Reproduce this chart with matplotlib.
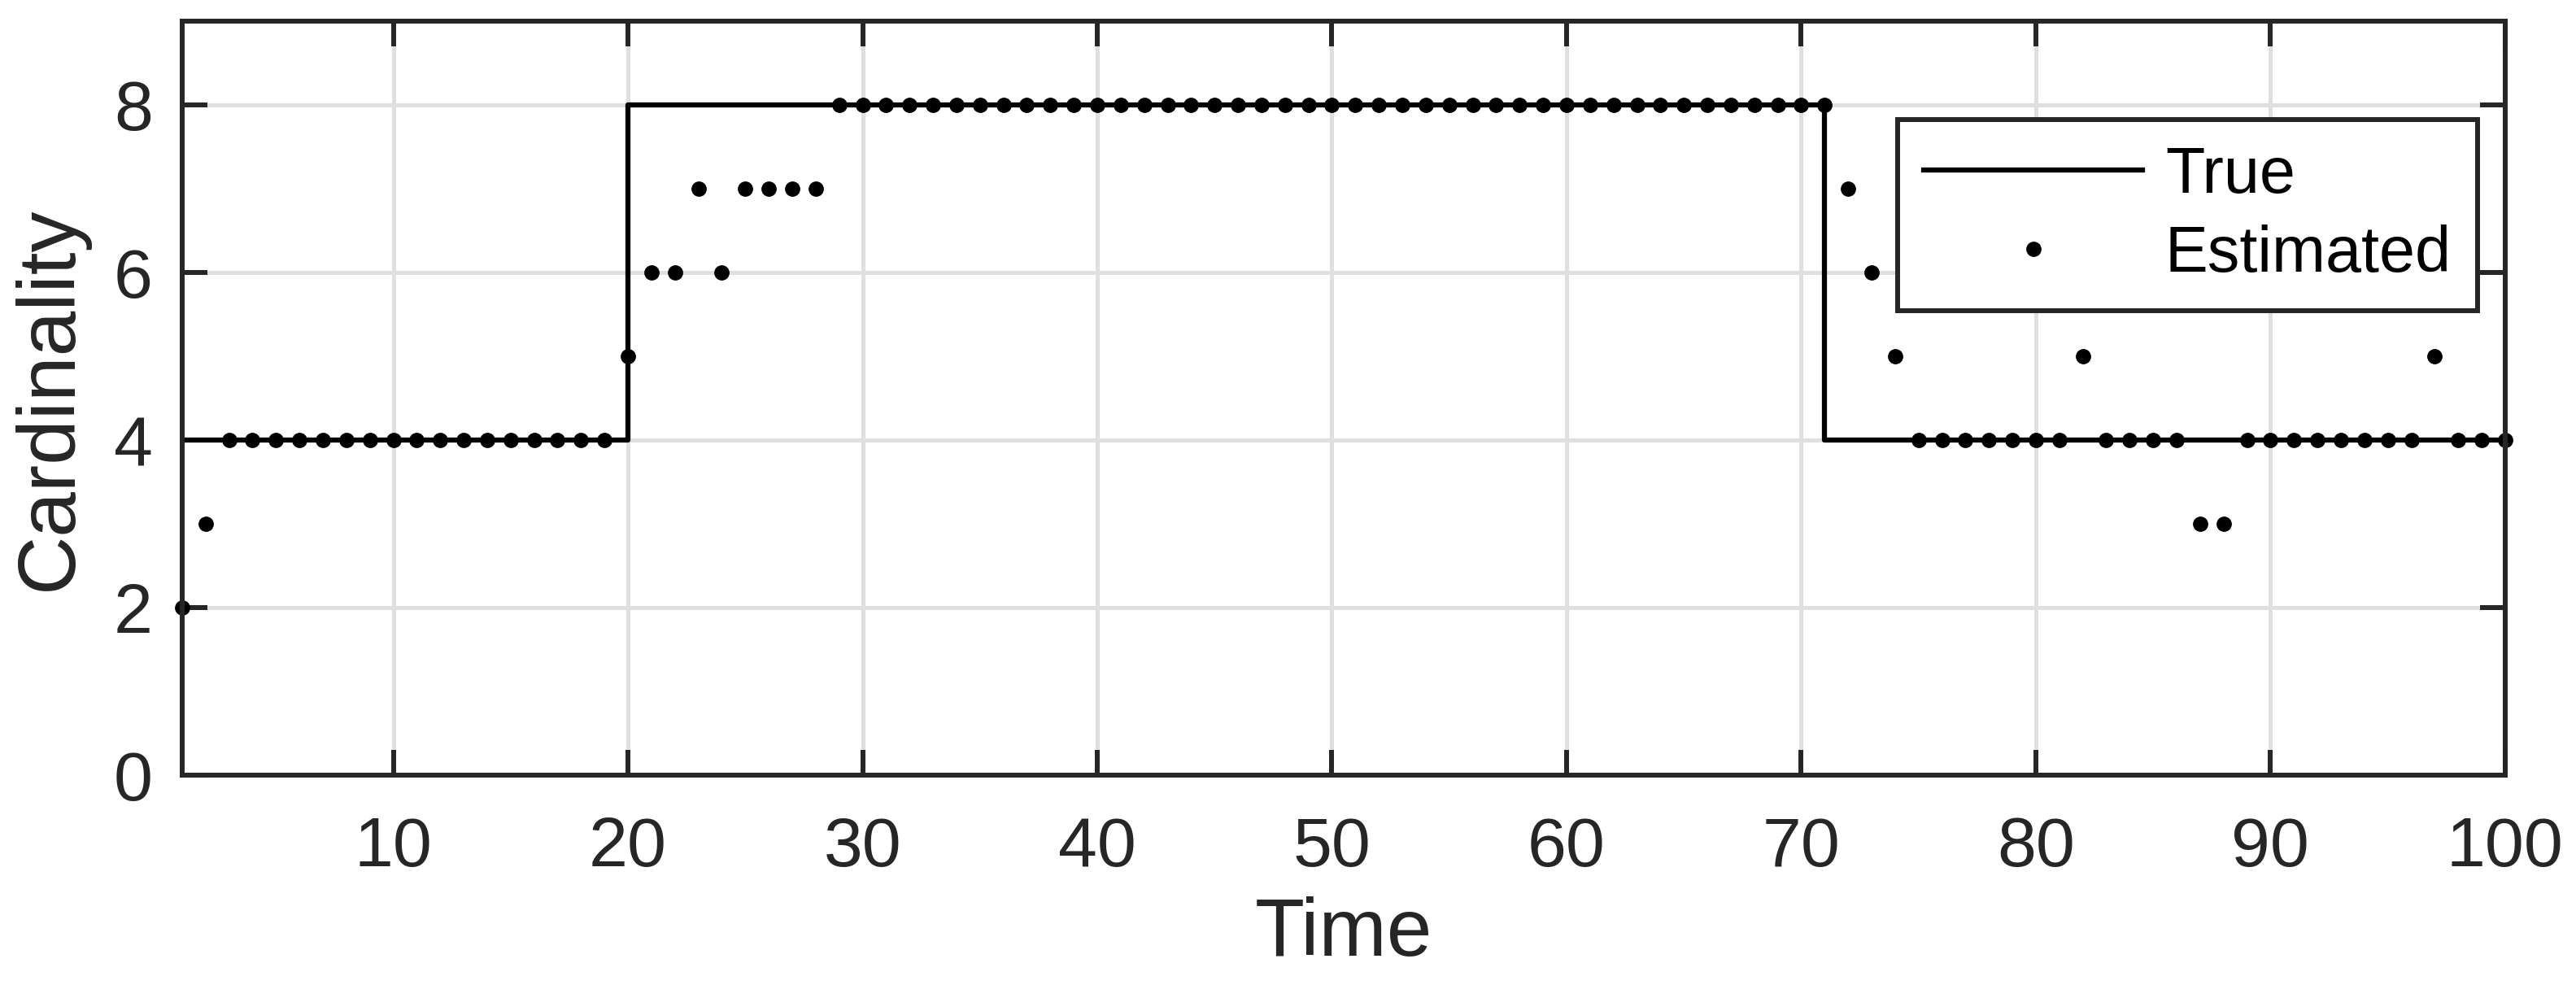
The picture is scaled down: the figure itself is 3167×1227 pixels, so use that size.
import numpy as np
import matplotlib
matplotlib.use("Agg")
import matplotlib.pyplot as plt

plt.rcParams['font.family'] = ['Liberation Sans', 'DejaVu Sans']

# données
time = np.arange(1, 101)
true_card = [4] * 19 + [8] * 51 + [4] * 30
est_card = ([2, 3] + [4] * 17 + [5, 6, 6, 7, 6, 7, 7, 7, 7] + [8] * 43
            + [7, 6, 5] + [4] * 7 + [5] + [4] * 4 + [3, 3] + [4] * 8 + [5] + [4] * 3)

axis_col = '#262626'

fig = plt.figure(figsize=(31.67, 12.27), dpi=100)
ax = fig.add_axes([0.0707, 0.2233, 0.9725 - 0.0707, 0.9788 - 0.2233])

ax.step(time, true_card, where='post', color='black', lw=4.5, label='True', zorder=3)
ax.plot(time, est_card, 'o', color='black', markersize=12.5, label='Estimated', zorder=4,
        clip_on=False)

ax.set_xlim(1, 100)
ax.set_ylim(0, 9)
ax.set_xticks(np.arange(10, 101, 10))
ax.set_yticks(np.arange(0, 9, 2))

ax.grid(True, color='#dfdfdf', lw=3.6)
ax.set_axisbelow(True)
for s in ax.spines.values():
    s.set_color(axis_col)
    s.set_linewidth(4.3)
    s.set_zorder(5)

ax.tick_params(axis='both', direction='in', length=22, width=4.3, color=axis_col,
               labelcolor=axis_col, labelsize=62, top=True, right=True)
ax.tick_params(axis='x', pad=36)
ax.tick_params(axis='y', pad=26)

ax.set_xlabel('Time', fontsize=72, color=axis_col, labelpad=14)
ax.set_ylabel('Cardinality', fontsize=72, color=axis_col, labelpad=22)

leg = ax.legend(loc='upper right', bbox_to_anchor=(0.988, 0.8695), borderaxespad=0,
                fontsize=57, fancybox=False, framealpha=1, edgecolor=axis_col,
                handlelength=3.4, handletextpad=0.35, labelspacing=0.28,
                borderpad=0.4)
leg.get_frame().set_linewidth(4.3)
for t in leg.get_texts():
    t.set_color('black')

fig.savefig('out.png', dpi=100, facecolor='white')
